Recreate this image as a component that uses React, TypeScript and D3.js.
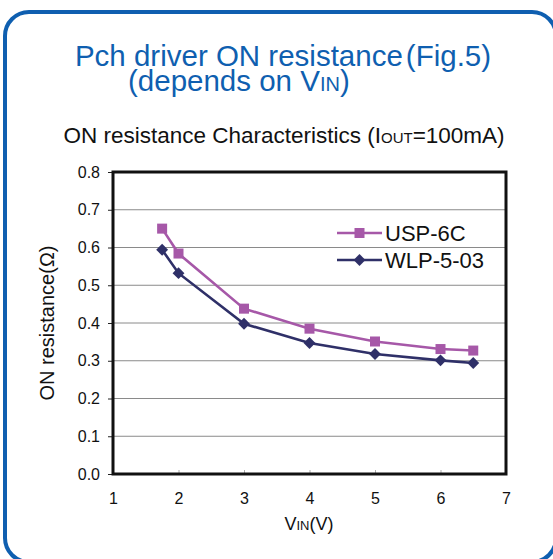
import React, { useEffect, useRef } from "react";
import * as d3 from "d3";

// values
const vin = [1.75, 2, 3, 4, 5, 6, 6.5];
const usp6c = [0.65, 0.584, 0.438, 0.385, 0.351, 0.331, 0.327];
const wlp503 = [0.594, 0.532, 0.398, 0.347, 0.318, 0.301, 0.294];
const xTicks = [1, 2, 3, 4, 5, 6, 7];
const yTicks = [0, 0.1, 0.2, 0.3, 0.4, 0.5, 0.6, 0.7, 0.8];
const seriesNames = ["USP-6C", "WLP-5-03"];

const W = 553;
const H = 559;
const plot = { left: 113, right: 506, top: 172, bottom: 474 };
const FONT = "'Liberation Sans', Arial, sans-serif";
const BLUE = "#0f5fb0";
const PINK = "#a658a8";
const NAVY = "#2f3068";

const App = () => {
  const svgRef = useRef<SVGSVGElement>(null);

  useEffect(() => {
    const svg = d3.select(svgRef.current);

    const x = d3.scaleLinear().domain([1, 7]).range([plot.left, plot.right]);
    const y = d3.scaleLinear().domain([0, 0.8]).range([plot.bottom, plot.top]);

    // gridlines
    svg.select(".grid")
      .selectAll("line")
      .data(yTicks.slice(1, -1))
      .join("line")
      .attr("x1", plot.left)
      .attr("x2", plot.right)
      .attr("y1", (d) => y(d))
      .attr("y2", (d) => y(d))
      .attr("stroke", "#8a8a8a")
      .attr("stroke-width", 1);

    const yAxis = d3.axisLeft(y).tickValues(yTicks).tickFormat(d3.format(".1f")).tickSize(5).tickPadding(8);
    const yG = svg.select(".y-axis").attr("transform", `translate(${plot.left},0)`).call(yAxis as any);
    yG.select(".domain").remove();
    yG.selectAll("line").attr("stroke", "#222");
    yG.selectAll("text").attr("font-size", 16).attr("font-family", FONT).attr("fill", "#111");

    const xAxis = d3.axisBottom(x).tickValues(xTicks).tickFormat(d3.format("d")).tickSize(-4).tickPadding(19);
    const xG = svg.select(".x-axis").attr("transform", `translate(0,${plot.bottom})`).call(xAxis as any);
    xG.select(".domain").remove();
    xG.selectAll("line").attr("stroke", "#aaa");
    xG.selectAll("text").attr("font-size", 16).attr("font-family", FONT).attr("fill", "#111");

    // plot frame
    svg.select(".frame")
      .attr("x", plot.left)
      .attr("y", plot.top)
      .attr("width", plot.right - plot.left)
      .attr("height", plot.bottom - plot.top)
      .attr("fill", "none")
      .attr("stroke", "#111")
      .attr("stroke-width", 3);

    const line = d3.line<number>().x((_, i) => x(vin[i])).y((d) => y(d));

    const s1 = svg.select(".usp");
    s1.selectAll("path").data([usp6c]).join("path")
      .attr("d", line).attr("fill", "none").attr("stroke", PINK).attr("stroke-width", 2.6);
    s1.selectAll("rect").data(usp6c).join("rect")
      .attr("x", (_, i) => x(vin[i]) - 5).attr("y", (d) => y(d) - 5)
      .attr("width", 10).attr("height", 10).attr("fill", PINK);

    const diamond = d3.symbol().type(d3.symbolDiamond2).size(90);
    const s2 = svg.select(".wlp");
    s2.selectAll("path.ln").data([wlp503]).join("path").attr("class", "ln")
      .attr("d", line).attr("fill", "none").attr("stroke", NAVY).attr("stroke-width", 2.6);
    s2.selectAll("path.mk").data(wlp503).join("path").attr("class", "mk")
      .attr("transform", (d, i) => `translate(${x(vin[i])},${y(d)})`)
      .attr("d", diamond as any).attr("fill", NAVY);

    // legend
    const leg = svg.select(".legend");
    const items = leg.selectAll("g").data(seriesNames).join("g")
      .attr("transform", (_, i) => `translate(337,${233 + i * 27})`);
    items.selectAll("*").remove();
    items.append("line").attr("x1", 0).attr("x2", 45).attr("y1", 0).attr("y2", 0)
      .attr("stroke", (_, i) => (i === 0 ? PINK : NAVY)).attr("stroke-width", 2.6);
    items.each(function (_, i) {
      const g = d3.select(this);
      if (i === 0) {
        g.append("rect").attr("x", 17.5).attr("y", -5).attr("width", 10).attr("height", 10).attr("fill", PINK);
      } else {
        g.append("path").attr("transform", "translate(22.5,0)").attr("d", diamond as any).attr("fill", NAVY);
      }
    });
    items.append("text").attr("x", 48).attr("y", 8).attr("font-size", 22).attr("font-family", FONT)
      .attr("fill", "#111").text((d) => d);
  }, []);

  return (
    <svg ref={svgRef} width={W} height={H} style={{ position: "absolute", left: 0, top: 0, background: "#fff" }}>
      <rect x={5} y={12} width={551} height={550} rx={24} fill="none" stroke={BLUE} strokeWidth={4} />
      <text x={283} y={66} textAnchor="middle" fontFamily={FONT} fontSize={29.5} fill={BLUE}>
        Pch driver ON resistance<tspan dx={3}>(Fig.5)</tspan>
      </text>
      <text x={128} y={91} fontFamily={FONT} fontSize={29.5} fill={BLUE}>
        (depends on V<tspan fontSize={20}>IN</tspan>)
      </text>
      <text x={284} y={143} textAnchor="middle" fontFamily={FONT} fontSize={22.5} fill="#111">
        ON resistance Characteristics (I<tspan fontSize={15}>OUT</tspan>=100mA)
      </text>
      <g className="grid" />
      <g className="y-axis" />
      <g className="x-axis" />
      <rect className="frame" />
      <g className="usp" />
      <g className="wlp" />
      <g className="legend" />
      <text transform={`translate(54,${(plot.top + plot.bottom) / 2}) rotate(-90)`} textAnchor="middle"
        fontFamily={FONT} fontSize={20} fill="#111">
        ON resistance(Ω)
      </text>
      <text x={309} y={530} textAnchor="middle" fontFamily={FONT} fontSize={18} fill="#111">
        V<tspan fontSize={13}>IN</tspan>(V)
      </text>
    </svg>
  );
};

export default App;
